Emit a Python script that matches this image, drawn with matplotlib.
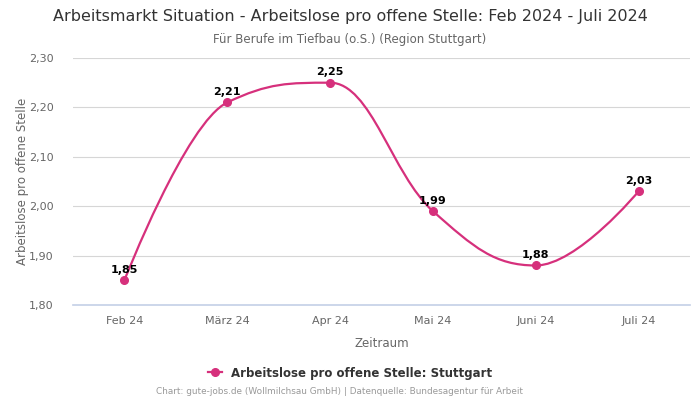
import numpy as np
import matplotlib.pyplot as plt
from matplotlib.path import Path
from matplotlib.patches import PathPatch
from matplotlib.lines import Line2D

months = ["Feb 24", "März 24", "Apr 24", "Mai 24", "Juni 24", "Juli 24"]
values = [1.85, 2.21, 2.25, 1.99, 1.88, 2.03]
y_ticks = [1.80, 1.90, 2.00, 2.10, 2.20, 2.30]

color = "#d6307c"


def spline_path(xs, ys, smoothing=1.5):
    # Highcharts-style spline through the points, as cubic bezier segments
    n = len(xs)
    left = [(xs[0], ys[0])] * n
    right = [(xs[0], ys[0])] * n
    for i in range(n):
        x, y = xs[i], ys[i]
        if i == 0 or i == n - 1:
            left[i] = (x, y)
            right[i] = (x, y)
            continue
        lx, ly = xs[i - 1], ys[i - 1]
        nx, ny = xs[i + 1], ys[i + 1]
        lcx = (smoothing * x + lx) / (smoothing + 1)
        lcy = (smoothing * y + ly) / (smoothing + 1)
        rcx = (smoothing * x + nx) / (smoothing + 1)
        rcy = (smoothing * y + ny) / (smoothing + 1)
        corr = ((rcy - lcy) * (rcx - x)) / (rcx - lcx) + y - rcy
        lcy += corr
        rcy += corr
        if lcy > ly and lcy > y:
            lcy = max(ly, y)
            rcy = 2 * y - lcy
        elif lcy < ly and lcy < y:
            lcy = min(ly, y)
            rcy = 2 * y - lcy
        if rcy > ny and rcy > y:
            rcy = max(ny, y)
            lcy = 2 * y - rcy
        elif rcy < ny and rcy < y:
            rcy = min(ny, y)
            lcy = 2 * y - rcy
        left[i] = (lcx, lcy)
        right[i] = (rcx, rcy)
    verts = [(xs[0], ys[0])]
    codes = [Path.MOVETO]
    for i in range(1, n):
        verts += [right[i - 1], left[i], (xs[i], ys[i])]
        codes += [Path.CURVE4] * 3
    return Path(verts, codes)


fig = plt.figure(figsize=(7, 4), dpi=100)
ax = fig.add_axes([73 / 700, 1 - 305 / 400, 617 / 700, 247 / 400])

x = np.arange(len(months))
ax.add_patch(PathPatch(spline_path(x, values), facecolor="none", edgecolor=color, lw=1.6, zorder=3))
ax.plot(x, values, "o", color=color, ms=5.5, zorder=4)

for xi, v in zip(x, values):
    ax.annotate(f"{v:.2f}".replace(".", ","), (xi, v), xytext=(0, 4), textcoords="offset points",
                ha="center", va="bottom", fontsize=8, fontweight="bold", color="black")

ax.set_xlim(-0.5, len(months) - 0.5)
ax.set_ylim(1.80, 2.30)
ax.set_xticks(x)
ax.set_xticklabels(months)
ax.set_yticks(y_ticks)
ax.set_yticklabels([f"{t:.2f}".replace(".", ",") for t in y_ticks])
ax.tick_params(axis="both", length=0, labelsize=8, colors="#666666", pad=8)
ax.tick_params(axis="y", pad=14)
for t in y_ticks[1:]:
    ax.axhline(t, color="#d6d6d6", lw=0.8, zorder=1)
ax.axhline(1.80, color="#c3cfe6", lw=1.2, zorder=2, clip_on=False)
for s in ax.spines.values():
    s.set_visible(False)

ax.set_xlabel("Zeitraum", fontsize=8.5, color="#666666", labelpad=8)
ax.set_ylabel("Arbeitslose pro offene Stelle", fontsize=8.5, color="#666666", labelpad=0)

fig.text(0.5, 1 - 17 / 400, "Arbeitsmarkt Situation - Arbeitslose pro offene Stelle: Feb 2024 - Juli 2024",
         ha="center", va="center", fontsize=11.5, color="#333333")
fig.text(0.5, 1 - 39 / 400, "Für Berufe im Tiefbau (o.S.) (Region Stuttgart)",
         ha="center", va="center", fontsize=8.5, color="#666666")

handle = Line2D([], [], color=color, marker="o", ms=5.5, lw=1.6)
fig.legend([handle], ["Arbeitslose pro offene Stelle: Stuttgart"], loc="center",
           bbox_to_anchor=(0.5, 1 - 373 / 400), frameon=False, handlelength=1.2,
           prop={"size": 8.5, "weight": "bold"}, labelcolor="#333333")

fig.text(340 / 700, 1 - 392 / 400, "Chart: gute-jobs.de (Wollmilchsau GmbH) | Datenquelle: Bundesagentur für Arbeit",
         ha="center", va="center", fontsize=6.4, color="#999999")

fig.savefig("out.png", dpi=100)
